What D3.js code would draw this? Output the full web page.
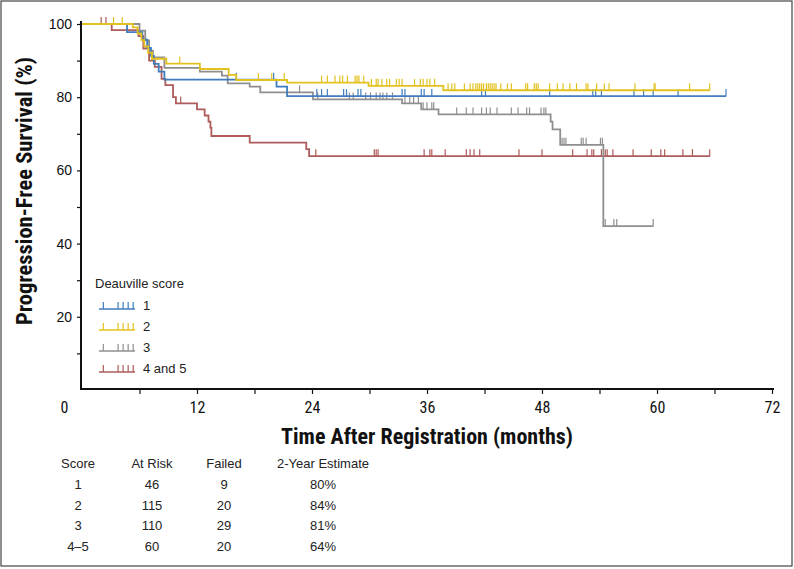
<!DOCTYPE html>
<html>
<head>
<meta charset="utf-8">
<script src="https://cdn.jsdelivr.net/npm/d3@7"></script>
<style>
  html, body { margin: 0; padding: 0; background: #fff; }
  svg { display: block; }
  .cond { font-family: "Liberation Sans Narrow", "Roboto Condensed", "DejaVu Sans Condensed", sans-serif; font-stretch: condensed; }
  .reg { font-family: "Liberation Sans", Arial, Helvetica, sans-serif; }
</style>
</head>
<body>
<svg id="chart" width="794" height="569"></svg>
<script>
// ---------------- DATA ----------------
const legendLabels = ["1", "2", "3", "4 and 5"];

// Deauville score 1
const score1Times = [0, 4.7, 6.3, 6.8, 7.2, 7.5, 8.0, 8.6, 20.3, 21.4];
const score1Surv  = [100, 97.8, 95.7, 93.5, 91.3, 89.1, 87.0, 84.8, 82.9, 80.3];
const score1End = 67.2;
const score1Censor = [16.1, 20.0, 24.5, 25.0, 25.6, 27.3, 27.6, 28.8, 29.1, 33.4, 33.7, 35.4, 35.7, 36.5, 41.7, 42.1, 48.8, 53.3, 53.6, 54.2, 57.6, 58.6, 59.6, 62.2, 67.2];

// Deauville score 2
const score2Times = [0, 5.3, 5.8, 6.2, 6.5, 6.9, 7.3, 8.8, 12.3, 15.3, 16.1, 21.4, 29.9, 37.7];
const score2Surv  = [100, 99.1, 97.4, 95.6, 93.9, 92.2, 90.5, 89.2, 87.7, 86.1, 84.7, 84.0, 83.1, 81.9];
const score2End = 65.5;
const score2Censor = [3.3, 4.2, 10.2, 18.4, 19.8, 21.1, 25.0, 25.6, 26.4, 26.9, 27.2, 27.7, 28.5, 28.7, 28.9, 29.4, 30.2, 30.7, 30.9, 31.3, 31.8, 32.1, 32.8, 33.1, 33.4, 34.7, 35.3, 35.6, 36.0, 36.3, 36.8, 38.2, 38.6, 38.9, 39.9, 40.5, 40.8, 41.1, 41.3, 41.5, 41.7, 41.9, 42.2, 42.4, 42.6, 42.8, 43.0, 43.2, 43.7, 44.4, 44.8, 46.3, 46.5, 47.2, 47.4, 47.6, 48.8, 49.6, 50.2, 50.9, 51.6, 52.6, 52.8, 53.7, 54.5, 55.0, 57.7, 59.7, 59.8, 63.4, 65.5];

// Deauville score 3
const score3Times = [0, 6.0, 6.6, 7.0, 7.4, 8.6, 12.3, 14.6, 15.2, 17.5, 18.6, 24.1, 33.4, 35.4, 37.2, 48.9, 49.1, 49.9, 54.4];
const score3Surv  = [100, 98.2, 95.5, 92.7, 90.9, 88.0, 87.0, 85.9, 83.8, 82.9, 81.3, 79.4, 78.3, 76.7, 75.3, 73.3, 71.2, 67.0, 44.8];
const score3End = 59.6;
const score3Censor = [22.7, 24.6, 27.9, 28.3, 29.6, 30.1, 30.7, 31.1, 31.4, 31.8, 32.4, 33.7, 34.2, 34.6, 35.1, 35.6, 36.0, 36.5, 36.7, 39.1, 40.1, 40.8, 41.7, 42.2, 42.6, 43.3, 44.8, 45.5, 46.4, 46.7, 47.9, 48.2, 48.4, 50.1, 50.3, 50.5, 52.1, 52.3, 52.6, 54.1, 54.3, 54.6, 55.5, 55.8, 59.6];

// Deauville score 4 and 5
const score45Times = [0, 3.1, 5.9, 6.4, 7.0, 7.6, 8.3, 8.7, 9.5, 9.8, 12.0, 12.8, 13.2, 13.4, 13.5, 17.5, 23.4, 23.7];
const score45Surv  = [100, 98.3, 96.7, 93.3, 90.0, 88.3, 85.0, 83.3, 80.0, 78.3, 76.7, 75.0, 73.3, 71.7, 69.4, 67.6, 65.8, 63.9];
const score45End = 65.5;
const score45Censor = [2.0, 2.5, 10.3, 24.4, 30.5, 30.7, 30.9, 35.7, 36.3, 36.5, 37.9, 40.1, 40.5, 40.9, 41.5, 45.6, 48.0, 51.2, 52.7, 53.2, 53.4, 54.2, 54.6, 54.8, 55.4, 57.5, 59.4, 60.4, 60.8, 62.7, 63.7, 65.5];

// Axis ticks
const xTickValues = [0, 6, 12, 18, 24, 30, 36, 42, 48, 54, 60, 66, 72];
const yTickValues = [10, 20, 30, 40, 50, 60, 70, 80, 90, 100];

// Summary table
const tableHeaders = ["Score", "At Risk", "Failed", "2-Year Estimate"];
const tableScores = ["1", "2", "3", "4\u20135"];
const tableAtRisk = [46, 115, 110, 60];
const tableFailed = [9, 20, 29, 20];
const tableEstimate = ["80%", "84%", "81%", "64%"];

// ---------------- DRAW ----------------
const colors = ["#3f7dbd", "#e3c11d", "#8f8f8f", "#ad5b5b"];
const groups = [
  {times: score1Times, surv: score1Surv, end: score1End, censor: score1Censor, color: colors[0]},
  {times: score2Times, surv: score2Surv, end: score2End, censor: score2Censor, color: colors[1]},
  {times: score3Times, surv: score3Surv, end: score3End, censor: score3Censor, color: colors[2]},
  {times: score45Times, surv: score45Surv, end: score45End, censor: score45Censor, color: colors[3]}
];

const svg = d3.select("#chart");
const x = d3.scaleLinear().domain([0, 72]).range([82, 772]);
const y = d3.scaleLinear().domain([0, 100]).range([390, 24]);

// outer frame
svg.append("rect").attr("x", 1).attr("y", 1).attr("width", 791).attr("height", 565)
  .attr("fill", "none").attr("stroke", "#444").attr("stroke-width", 1.2);

function survAt(g, t) {
  let s = g.surv[0];
  for (let i = 0; i < g.times.length; i++) { if (g.times[i] <= t) s = g.surv[i]; }
  return s;
}

const line = d3.line().x(d => x(d[0])).y(d => y(d[1])).curve(d3.curveStepAfter);

const drawOrder = [3, 2, 0, 1];
drawOrder.forEach(gi => {
  const g = groups[gi];
  const pts = g.times.map((t, i) => [t, g.surv[i]]);
  pts.push([g.end, g.surv[g.surv.length - 1]]);
  const gg = svg.append("g");
  gg.append("path").attr("d", line(pts)).attr("fill", "none")
    .attr("stroke", g.color).attr("stroke-width", 1.8);
  gg.selectAll("line.c").data(g.censor).enter().append("line")
    .attr("x1", d => x(d)).attr("x2", d => x(d))
    .attr("y1", d => y(survAt(g, d)) + 0.5)
    .attr("y2", d => y(survAt(g, d)) - 7)
    .attr("stroke", g.color).attr("stroke-width", 1.2);
});

// Axes
const yAxis = d3.axisLeft(y).tickValues(yTickValues)
  .tickFormat(d => d % 20 === 0 ? d : "").tickSize(4).tickSizeOuter(0).tickPadding(5);
const gy = svg.append("g").attr("transform", "translate(81,0)").call(yAxis);
gy.select(".domain").attr("stroke", "#111").attr("stroke-width", 2).attr("d", "M0,21V390");
gy.selectAll(".tick line").attr("stroke", "#111").attr("stroke-width", 1.2);
gy.selectAll(".tick text").attr("class", "reg").attr("font-size", 14).attr("fill", "#111");

const xAxis = d3.axisBottom(x).tickValues(xTickValues)
  .tickFormat(d => d % 12 === 0 ? d : "").tickSize(5).tickSizeOuter(0).tickPadding(8);
const gx = svg.append("g").attr("transform", "translate(0,389)").call(xAxis);
gx.select(".domain").attr("stroke", "#111").attr("stroke-width", 2).attr("d", "M80,0H774");
gx.selectAll(".tick line").attr("stroke", "#111").attr("stroke-width", 1.2);
gx.selectAll(".tick text").attr("class", "cond").attr("font-size", 16).attr("fill", "#111");
gx.selectAll(".tick").filter(d => d === 0).select("text").attr("x", -18);
gx.selectAll(".tick").filter(d => d === 0).select("line").remove();

// Axis titles
svg.append("text").attr("class", "cond").attr("x", 427).attr("y", 444)
  .attr("text-anchor", "middle").attr("font-weight", "bold").attr("font-size", 22)
  .attr("fill", "#111").text("Time After Registration (months)");
svg.append("text").attr("class", "cond")
  .attr("transform", "translate(32,191) rotate(-90)")
  .attr("text-anchor", "middle").attr("font-weight", "bold").attr("font-size", 22.5)
  .attr("fill", "#111").text("Progression-Free Survival (%)");

// Legend
const lg = svg.append("g");
lg.append("text").attr("class", "reg").attr("x", 95).attr("y", 288)
  .attr("font-size", 13).attr("fill", "#222").text("Deauville score");
const legTicks = [0.12, 0.53, 0.67, 0.81, 0.95];
legendLabels.forEach((lab, i) => {
  const ly = 309 + i * 21;
  lg.append("line").attr("x1", 99).attr("x2", 135).attr("y1", ly).attr("y2", ly)
    .attr("stroke", colors[i]).attr("stroke-width", 1.6);
  legTicks.forEach(f => {
    const tx = 99 + f * 36;
    lg.append("line").attr("x1", tx).attr("x2", tx).attr("y1", ly).attr("y2", ly - 7)
      .attr("stroke", colors[i]).attr("stroke-width", 1.2);
  });
  lg.append("text").attr("class", "reg").attr("x", 143).attr("y", ly + 1)
    .attr("font-size", 13).attr("fill", "#222").text(lab);
});

// Table
const colX = [78, 152, 224, 323];
const tg = svg.append("g").attr("class", "reg").attr("font-size", 13).attr("fill", "#222")
  .attr("text-anchor", "middle");
tableHeaders.forEach((h, j) => {
  tg.append("text").attr("x", colX[j]).attr("y", 468).text(h);
});
tableScores.forEach((s, i) => {
  const ty = 489 + i * 20.5;
  const row = [s, tableAtRisk[i], tableFailed[i], tableEstimate[i]];
  row.forEach((v, j) => {
    tg.append("text").attr("x", colX[j]).attr("y", ty).text(v);
  });
});
</script>
</body>
</html>
